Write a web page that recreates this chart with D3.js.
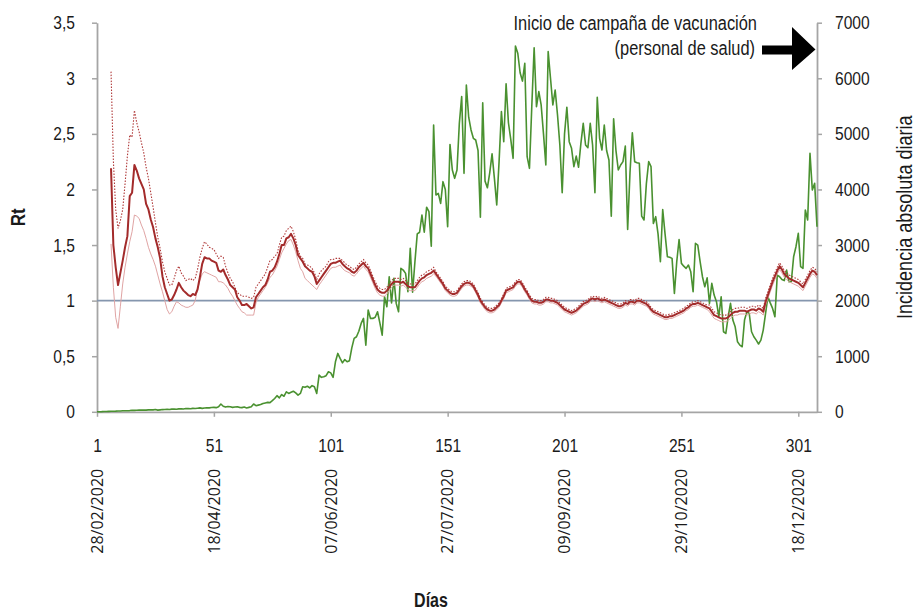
<!DOCTYPE html>
<html>
<head>
<meta charset="utf-8">
<script src="https://cdn.jsdelivr.net/npm/d3@7"></script>
<style>
  body { margin: 0; background: #fff; }
  text { fill: #1a1a1a; }
</style>
</head>
<body>
<svg id="chart" width="918" height="613"></svg>
<script>
// incidencia absoluta diaria, dias 1..309
const incidencia = [
  0, 2, 3, 5, 5, 8, 10, 10, 12, 15,
  15, 18, 20, 20, 22, 25, 25, 28, 30, 30,
  32, 30, 35, 38, 35, 40, 30, 35, 40, 42,
  45, 40, 48, 50, 45, 52, 55, 50, 58, 60,
  55, 62, 60, 65, 70, 62, 68, 72, 70, 78,
  80, 75, 90, 140, 100, 85, 95, 90, 80, 85,
  90, 80, 75, 85, 70, 80, 90, 140, 110, 120,
  130, 150, 160, 170, 165, 200, 240, 290, 250, 310,
  280, 360, 330, 350, 370, 340, 300, 330, 450, 440,
  460, 430, 470, 450, 330, 660, 620, 630, 650, 720,
  700, 620, 900, 1050, 960, 880, 940, 900, 920, 1150,
  1320, 1350, 1450, 1590, 1680, 1200, 1830, 1680, 1680, 1700,
  1800, 1600, 1380, 2070, 1890, 2430, 1960, 2400, 1950, 1800,
  2580, 2550, 2490, 2160, 2940, 2150, 2700, 3200, 3230, 3540,
  3230, 3680, 3600, 2980, 5160, 3900, 3930, 3750, 4140, 4000,
  3330, 4810, 4350, 4200, 4350, 5190, 5670, 4290, 5880, 5300,
  5070, 4920, 4890, 4700, 3500, 5560, 4150, 4030, 4300, 4640,
  4200, 3720, 4500, 5400, 4860, 5900, 5200, 4900, 4560, 6580,
  6450, 6100, 5950, 6270, 4590, 4380, 5500, 6550, 5490, 5760,
  5520, 5000, 4440, 6480, 6000, 5520, 5790, 5340, 4800, 3940,
  5000, 5480, 4860, 4740, 4410, 4600, 4400, 4830, 5190, 4800,
  4750, 5190, 4800, 3940, 5660, 4920, 4710, 5160, 4700, 4530,
  3520, 5270, 4700, 4350, 4440, 4500, 4780, 3280, 4300, 5020,
  4500, 4480, 4470, 3520, 3450, 4100, 4500, 4410, 3390, 3510,
  3200, 2700, 3640, 3200, 2790, 2780, 2760, 2130, 2700, 3100,
  2670, 2620, 2580, 2640, 2520, 2160, 3030, 3000, 2700, 2430,
  2250, 2410, 1950, 2310, 2100, 1980, 1710, 2070, 1440, 1410,
  1710, 1950, 1650, 1530, 1260, 1200, 1170, 1650, 1800, 1770,
  1440, 1350, 1290, 1220, 1290, 1470, 1770, 2070, 1960, 1860,
  1710, 2460, 2430, 2380, 2360, 2550, 2340, 2340, 2790, 2970,
  3210, 2610, 2580, 3630, 3450, 4650, 3990, 4110, 3330
];

// Rt estimado, dias 1..309
const rtMedio = [
  null, null, null, null, null, null, 2.19, 1.50, 1.30, 1.14,
  1.25, 1.36, 1.48, 1.58, 1.94, 1.97, 2.22, 2.17, 2.10, 2.05,
  2.00, 1.87, 1.82, 1.73, 1.66, 1.56, 1.48, 1.38, 1.22, 1.12,
  1.06, 1.00, 1.01, 1.05, 1.10, 1.16, 1.12, 1.09, 1.07, 1.05,
  1.04, 1.06, 1.05, 1.10, 1.21, 1.33, 1.39, 1.38, 1.38, 1.36,
  1.35, 1.34, 1.27, 1.26, 1.28, 1.23, 1.19, 1.14, 1.12, 1.10,
  1.03, 1.00, 0.96, 0.96, 0.97, 0.95, 0.93, 0.94, 1.03, 1.06,
  1.09, 1.12, 1.14, 1.19, 1.26, 1.27, 1.30, 1.35, 1.42, 1.50,
  1.50, 1.56, 1.57, 1.60, 1.56, 1.50, 1.41, 1.38, 1.35, 1.31,
  1.29, 1.27, 1.26, 1.22, 1.15, 1.18, 1.21, 1.24, 1.27, 1.30,
  1.33, 1.34, 1.34, 1.35, 1.36, 1.33, 1.31, 1.29, 1.28, 1.26,
  1.25, 1.27, 1.30, 1.32, 1.34, 1.31, 1.29, 1.24, 1.19, 1.14,
  1.10, 1.08, 1.07, 1.07, 1.09, 1.12, 1.15, 1.17, 1.17, 1.17,
  1.16, 1.17, 1.15, 1.13, 1.12, 1.12, 1.12, 1.15, 1.18, 1.20,
  1.21, 1.23, 1.24, 1.25, 1.27, 1.24, 1.21, 1.18, 1.15, 1.11,
  1.09, 1.07, 1.06, 1.06, 1.07, 1.10, 1.13, 1.15, 1.16, 1.16,
  1.15, 1.13, 1.09, 1.05, 1.00, 0.97, 0.94, 0.92, 0.91, 0.91,
  0.92, 0.94, 0.96, 1.00, 1.04, 1.09, 1.10, 1.11, 1.12, 1.15,
  1.17, 1.17, 1.14, 1.10, 1.07, 1.03, 1.00, 0.99, 0.99, 0.98,
  0.98, 0.99, 1.01, 1.01, 1.00, 1.00, 0.99, 0.98, 0.96, 0.94,
  0.92, 0.91, 0.90, 0.89, 0.90, 0.91, 0.93, 0.95, 0.97, 0.98,
  0.99, 1.01, 1.02, 1.01, 1.02, 1.01, 1.00, 1.01, 1.00, 0.99,
  0.98, 0.97, 0.96, 0.95, 0.95, 0.96, 0.98, 0.97, 0.99, 0.99,
  0.98, 1.00, 1.00, 0.99, 0.98, 0.97, 0.95, 0.92, 0.90, 0.89,
  0.88, 0.87, 0.86, 0.85, 0.85, 0.86, 0.86, 0.87, 0.88, 0.89,
  0.90, 0.91, 0.93, 0.94, 0.96, 0.97, 0.97, 0.98, 0.97, 0.96,
  0.95, 0.94, 0.93, 0.90, 0.87, 0.86, 0.85, 0.84, 0.84, 0.84,
  0.85, 0.87, 0.89, 0.90, 0.90, 0.91, 0.91, 0.91, 0.90, 0.91,
  0.92, 0.92, 0.91, 0.93, 0.92, 0.90, 0.99, 1.05, 1.11, 1.17,
  1.22, 1.27, 1.31, 1.28, 1.24, 1.22, 1.20, 1.19, 1.18, 1.17,
  1.16, 1.14, 1.12, 1.16, 1.20, 1.24, 1.27, 1.26, 1.23
];

// limite superior del intervalo
const rtSuperior = [
  null, null, null, null, null, null, 3.06, 2.26, 1.82, 1.65,
  1.72, 1.82, 2.05, 2.30, 2.49, 2.47, 2.71, 2.60, 2.52, 2.42,
  2.33, 2.20, 2.10, 1.97, 1.84, 1.70, 1.57, 1.47, 1.35, 1.26,
  1.20, 1.14, 1.14, 1.20, 1.27, 1.31, 1.25, 1.22, 1.18, 1.19,
  1.20, 1.18, 1.20, 1.28, 1.39, 1.47, 1.53, 1.51, 1.48, 1.47,
  1.46, 1.42, 1.38, 1.40, 1.39, 1.31, 1.25, 1.20, 1.17, 1.12,
  1.07, 1.06, 1.04, 1.04, 1.04, 1.03, 1.02, 1.03, 1.12, 1.15,
  1.18, 1.21, 1.24, 1.30, 1.36, 1.37, 1.40, 1.42, 1.50, 1.57,
  1.58, 1.63, 1.65, 1.67, 1.62, 1.55, 1.45, 1.40, 1.38, 1.33,
  1.32, 1.31, 1.29, 1.25, 1.19, 1.24, 1.27, 1.29, 1.31, 1.35,
  1.37, 1.37, 1.38, 1.38, 1.38, 1.36, 1.34, 1.32, 1.31, 1.29,
  1.28, 1.30, 1.33, 1.35, 1.37, 1.34, 1.32, 1.27, 1.22, 1.17,
  1.13, 1.11, 1.10, 1.10, 1.12, 1.15, 1.18, 1.20, 1.20, 1.20,
  1.19, 1.20, 1.18, 1.16, 1.15, 1.15, 1.15, 1.18, 1.21, 1.23,
  1.24, 1.26, 1.27, 1.28, 1.30, 1.26, 1.23, 1.20, 1.17, 1.13,
  1.11, 1.09, 1.08, 1.08, 1.09, 1.12, 1.15, 1.17, 1.18, 1.18,
  1.17, 1.15, 1.11, 1.07, 1.02, 0.99, 0.96, 0.94, 0.93, 0.93,
  0.94, 0.96, 0.98, 1.02, 1.06, 1.11, 1.12, 1.13, 1.14, 1.17,
  1.19, 1.19, 1.16, 1.12, 1.09, 1.05, 1.02, 1.01, 1.01, 1.00,
  1.00, 1.01, 1.03, 1.03, 1.02, 1.02, 1.01, 1.00, 0.98, 0.96,
  0.94, 0.93, 0.92, 0.91, 0.92, 0.93, 0.95, 0.97, 0.99, 1.00,
  1.01, 1.03, 1.04, 1.03, 1.04, 1.03, 1.02, 1.03, 1.02, 1.01,
  1.00, 0.99, 0.98, 0.97, 0.97, 0.98, 1.00, 0.99, 1.01, 1.01,
  1.00, 1.02, 1.02, 1.01, 1.00, 0.99, 0.97, 0.94, 0.92, 0.91,
  0.90, 0.89, 0.88, 0.87, 0.87, 0.88, 0.88, 0.89, 0.90, 0.91,
  0.92, 0.93, 0.95, 0.96, 0.98, 0.99, 0.99, 1.00, 0.99, 0.98,
  0.97, 0.96, 0.96, 0.93, 0.90, 0.89, 0.88, 0.87, 0.87, 0.87,
  0.88, 0.90, 0.92, 0.93, 0.93, 0.94, 0.94, 0.94, 0.93, 0.94,
  0.95, 0.95, 0.94, 0.96, 0.95, 0.93, 1.02, 1.08, 1.14, 1.20,
  1.25, 1.30, 1.34, 1.31, 1.27, 1.25, 1.23, 1.22, 1.21, 1.20,
  1.19, 1.17, 1.15, 1.19, 1.23, 1.27, 1.30, 1.29, 1.26
];

// limite inferior del intervalo
const rtInferior = [
  null, null, null, null, null, null, 1.51, 1.12, 0.85, 0.75,
  0.95, 1.15, 1.30, 1.42, 1.53, 1.62, 1.77, 1.76, 1.74, 1.68,
  1.63, 1.56, 1.48, 1.42, 1.37, 1.31, 1.23, 1.15, 1.08, 1.00,
  0.92, 0.88, 0.90, 0.95, 0.99, 0.98, 0.96, 0.95, 0.94, 0.94,
  0.95, 0.96, 1.00, 1.10, 1.18, 1.24, 1.26, 1.25, 1.24, 1.23,
  1.22, 1.21, 1.17, 1.17, 1.16, 1.14, 1.11, 1.07, 1.04, 1.00,
  0.96, 0.93, 0.90, 0.89, 0.87, 0.87, 0.87, 0.87, 0.98, 1.03,
  1.06, 1.09, 1.12, 1.16, 1.21, 1.23, 1.27, 1.31, 1.37, 1.43,
  1.47, 1.51, 1.54, 1.55, 1.50, 1.44, 1.36, 1.29, 1.26, 1.20,
  1.18, 1.16, 1.14, 1.12, 1.10, 1.14, 1.17, 1.20, 1.23, 1.26,
  1.29, 1.30, 1.30, 1.31, 1.32, 1.29, 1.27, 1.26, 1.25, 1.23,
  1.22, 1.24, 1.27, 1.29, 1.31, 1.28, 1.26, 1.21, 1.16, 1.11,
  1.07, 1.05, 1.04, 1.04, 1.06, 1.09, 1.12, 1.14, 1.14, 1.14,
  1.13, 1.14, 1.12, 1.10, 1.09, 1.09, 1.09, 1.12, 1.15, 1.17,
  1.18, 1.20, 1.21, 1.22, 1.24, 1.22, 1.19, 1.16, 1.13, 1.09,
  1.07, 1.05, 1.04, 1.04, 1.05, 1.08, 1.11, 1.13, 1.14, 1.14,
  1.13, 1.11, 1.07, 1.03, 0.98, 0.95, 0.92, 0.90, 0.89, 0.89,
  0.90, 0.92, 0.94, 0.98, 1.02, 1.07, 1.08, 1.09, 1.10, 1.13,
  1.15, 1.15, 1.12, 1.08, 1.05, 1.01, 0.98, 0.97, 0.97, 0.96,
  0.96, 0.97, 0.99, 0.99, 0.98, 0.98, 0.97, 0.96, 0.94, 0.92,
  0.90, 0.89, 0.88, 0.87, 0.88, 0.89, 0.91, 0.93, 0.95, 0.96,
  0.97, 0.99, 1.00, 0.99, 1.00, 0.99, 0.98, 0.99, 0.98, 0.97,
  0.96, 0.95, 0.94, 0.93, 0.93, 0.94, 0.96, 0.95, 0.97, 0.97,
  0.96, 0.98, 0.98, 0.97, 0.96, 0.95, 0.93, 0.90, 0.88, 0.87,
  0.86, 0.85, 0.84, 0.83, 0.83, 0.84, 0.84, 0.85, 0.86, 0.87,
  0.88, 0.89, 0.91, 0.92, 0.94, 0.95, 0.95, 0.96, 0.95, 0.94,
  0.93, 0.92, 0.90, 0.87, 0.84, 0.83, 0.82, 0.81, 0.81, 0.81,
  0.82, 0.84, 0.86, 0.87, 0.87, 0.88, 0.88, 0.88, 0.87, 0.88,
  0.89, 0.89, 0.88, 0.90, 0.89, 0.87, 0.96, 1.02, 1.08, 1.14,
  1.19, 1.24, 1.28, 1.25, 1.21, 1.19, 1.17, 1.16, 1.15, 1.14,
  1.13, 1.11, 1.09, 1.13, 1.17, 1.21, 1.24, 1.23, 1.20
];

const diasTicks = [1, 51, 101, 151, 201, 251, 301];
const fechas = ["28/02/2020", "18/04/2020", "07/06/2020", "27/07/2020",
                "09/09/2020", "29/10/2020", "18/12/2020"];
const rtTicks = [0, 0.5, 1, 1.5, 2, 2.5, 3, 3.5];
const incTicks = [0, 1000, 2000, 3000, 4000, 5000, 6000, 7000];

const dias = d3.range(1, incidencia.length + 1);

const margin = {top: 22.7, right: 101, bottom: 201.2, left: 97};
const width = 918 - margin.left - margin.right;
const height = 613 - margin.top - margin.bottom;

const numFont = '"Liberation Sans", Arial, sans-serif';
const dateFont = '"Open Sans", "Liberation Sans", sans-serif';

// estrecha el texto para imitar una fuente condensada
function condense(sel, k) {
  sel.each(function() {
    const w = this.getComputedTextLength();
    d3.select(this)
        .attr('textLength', w * k)
        .attr('lengthAdjust', 'spacingAndGlyphs');
  });
}

const svg = d3.select('#chart');
const g = svg.append('g').attr('transform', `translate(${margin.left},${margin.top})`);

const x = d3.scaleLinear().domain([1, dias.length]).range([0, width]);
const yL = d3.scaleLinear().domain([0, 3.5]).range([height, 0]);
const yR = d3.scaleLinear().domain([0, 7000]).range([height, 0]);

// ejes
const axisColor = '#a5a5a5';
const fmtRt = d => String(d).replace('.', ',');

const axL = g.append('g')
    .call(d3.axisLeft(yL).tickValues(rtTicks).tickFormat(fmtRt)
      .tickSize(5).tickSizeOuter(0).tickPadding(17));
const axR = g.append('g')
    .attr('transform', `translate(${width},0)`)
    .call(d3.axisRight(yR).tickValues(incTicks).tickFormat(d3.format('d'))
      .tickSize(5).tickSizeOuter(0).tickPadding(13));
const axB = g.append('g')
    .attr('transform', `translate(0,${height})`)
    .call(d3.axisBottom(x).tickValues(diasTicks).tickFormat(d3.format('d'))
      .tickSize(5).tickSizeOuter(0).tickPadding(22));

[axL, axR, axB].forEach(a => {
  a.select('.domain').attr('stroke', axisColor).attr('stroke-width', 1.8);
  a.selectAll('.tick line').attr('stroke', axisColor).attr('stroke-width', 1.5);
  a.selectAll('.tick text')
      .attr('font-family', numFont)
      .attr('font-size', 19)
      .attr('fill', '#1a1a1a')
      .call(condense, 0.82);
});

// fechas giradas
g.append('g').selectAll('text')
  .data(diasTicks)
  .join('text')
    .attr('transform', (d, i) => `translate(${x(d)},${height + 57}) rotate(-90)`)
    .attr('text-anchor', 'end')
    .attr('dy', '0.36em')
    .attr('font-family', dateFont)
    .attr('font-size', 16)
    .text((d, i) => fechas[i]);

// linea Rt = 1
g.append('line')
    .attr('x1', 0).attr('x2', width)
    .attr('y1', yL(1)).attr('y2', yL(1))
    .attr('stroke', '#8596ae')
    .attr('stroke-width', 1.6);

// incidencia
const lineInc = d3.line()
    .x((d, i) => x(dias[i]))
    .y(d => yR(d));

g.append('path')
    .datum(incidencia)
    .attr('fill', 'none')
    .attr('stroke', '#4a9130')
    .attr('stroke-width', 1.6)
    .attr('stroke-linejoin', 'round')
    .attr('d', lineInc);

// Rt y su intervalo
const lineRt = d3.line()
    .defined(d => d != null)
    .x((d, i) => x(dias[i]))
    .y(d => yL(d));

g.append('path')
    .datum(rtInferior)
    .attr('fill', 'none')
    .attr('stroke', '#e0a4a4')
    .attr('stroke-width', 1)
    .attr('d', lineRt);

g.append('path')
    .datum(rtSuperior)
    .attr('fill', 'none')
    .attr('stroke', '#b03a3a')
    .attr('stroke-width', 1.1)
    .attr('stroke-dasharray', '1.5,1.5')
    .attr('d', lineRt);

g.append('path')
    .datum(rtMedio)
    .attr('fill', 'none')
    .attr('stroke', '#a32b2b')
    .attr('stroke-width', 2)
    .attr('stroke-linejoin', 'round')
    .attr('d', lineRt);

// titulos de ejes
svg.append('text')
    .attr('transform', `translate(25,${margin.top + height / 2}) rotate(-90)`)
    .attr('text-anchor', 'middle')
    .attr('font-family', numFont)
    .attr('font-size', 20)
    .attr('font-weight', 'bold')
    .text('Rt')
    .call(condense, 0.85);

svg.append('text')
    .attr('transform', `translate(912,${margin.top + height / 2}) rotate(-90)`)
    .attr('text-anchor', 'middle')
    .attr('font-family', numFont)
    .attr('font-size', 22)
    .text('Incidencia absoluta diaria')
    .call(condense, 0.82);

svg.append('text')
    .attr('x', margin.left + width / 2 - 26)
    .attr('y', 607)
    .attr('text-anchor', 'middle')
    .attr('font-family', numFont)
    .attr('font-size', 20)
    .attr('font-weight', 'bold')
    .text('Días')
    .call(condense, 0.8);

// anotacion de la campaña de vacunacion
svg.append('text')
    .attr('x', 757).attr('y', 29.5)
    .attr('text-anchor', 'end')
    .attr('font-family', numFont)
    .attr('font-size', 20)
    .text('Inicio de campaña de vacunación')
    .call(condense, 0.82);

svg.append('text')
    .attr('x', 755).attr('y', 55)
    .attr('text-anchor', 'end')
    .attr('font-family', numFont)
    .attr('font-size', 20)
    .text('(personal de salud)')
    .call(condense, 0.82);

svg.append('path')
    .attr('d', 'M762,45.5 L792,45.5 L792,27 L815.5,49.5 L792,70 L792,54.5 L762,54.5 Z')
    .attr('fill', '#000');
</script>
</body>
</html>
